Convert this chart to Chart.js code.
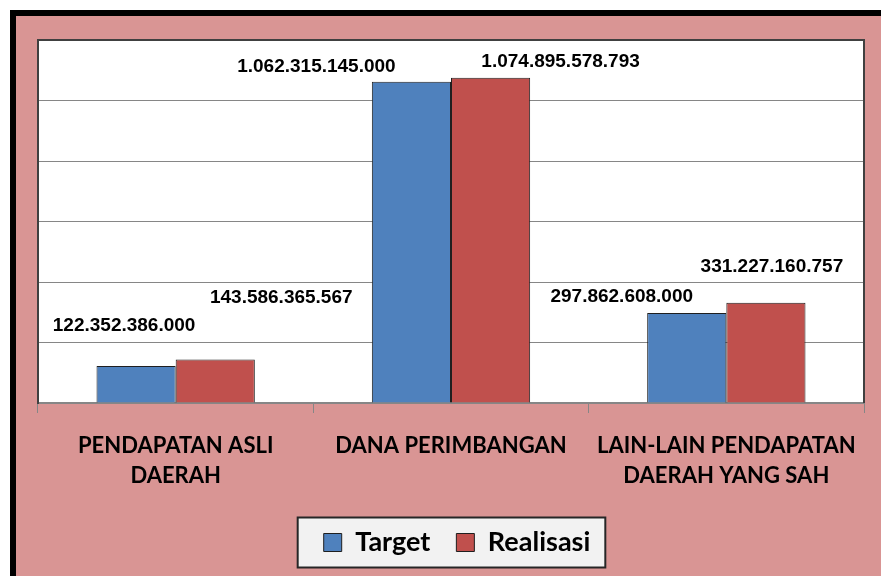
<!DOCTYPE html>
<html>
<head>
    <title>Target dan Realisasi Pendapatan</title>
    <script src="https://cdn.jsdelivr.net/npm/chart.js"></script>
    <style>
        body {
            margin: 0;
            padding: 0;
            overflow: hidden;
            background-color: #ffffff;
        }
        #frame {
            position: absolute;
            left: 10px;
            top: 10px;
            width: 865px;
            height: 560px;
            border-top: 6px solid #000;
            border-left: 6px solid #000;
            background-color: #D99594;
        }
        #frame canvas {
            display: block;
        }
    </style>
</head>
<body>
    <div id="frame">
        <canvas id="myChart" width="865" height="560"></canvas>
    </div>

    <script>
        // data
        const categories = [
            ['PENDAPATAN ASLI', 'DAERAH'],
            ['DANA PERIMBANGAN'],
            ['LAIN-LAIN PENDAPATAN', 'DAERAH YANG SAH']
        ];
        const targetValues = [122352386000, 1062315145000, 297862608000];
        const realisasiValues = [143586365567, 1074895578793, 331227160757];
        const seriesNames = ['Target', 'Realisasi'];

        // where each value label sits relative to the top of its bar (like the dragged labels in Excel)
        const labelOffsets = [
            [[-12, -40], [-95, -15], [-65, -16]],
            [[66, -62], [70, -16], [6, -36]]
        ];

        function formatRupiah(v) {
            return String(Math.round(v)).replace(/\B(?=(\d{3})+(?!\d))/g, '.');
        }

        const valueLabels = {
            id: 'valueLabels',
            afterDatasetsDraw(chart) {
                const c = chart.ctx;
                c.save();
                c.font = "bold 19px 'Liberation Sans', Arial, sans-serif";
                c.fillStyle = '#000';
                c.textAlign = 'center';
                c.textBaseline = 'middle';
                chart.data.datasets.forEach((ds, i) => {
                    chart.getDatasetMeta(i).data.forEach((bar, j) => {
                        const off = labelOffsets[i][j];
                        c.fillText(formatRupiah(ds.data[j]), bar.x + off[0], bar.y + off[1]);
                    });
                });
                c.restore();
            }
        };

        // white plot area and dark frame round it (bottom edge is the grey axis line)
        const plotFrame = {
            id: 'plotFrame',
            beforeDraw(chart) {
                const a = chart.chartArea;
                chart.ctx.save();
                chart.ctx.fillStyle = '#ffffff';
                chart.ctx.fillRect(a.left, a.top, a.right - a.left, a.bottom - a.top);
                chart.ctx.restore();
            },
            afterDraw(chart) {
                const a = chart.chartArea;
                const c = chart.ctx;
                c.save();
                c.strokeStyle = '#404040';
                c.lineWidth = 2;
                c.beginPath();
                c.moveTo(a.left, a.bottom);
                c.lineTo(a.left, a.top);
                c.lineTo(a.right, a.top);
                c.lineTo(a.right, a.bottom);
                c.stroke();
                c.restore();
            }
        };

        // grey box behind the legend, legend nudged a little right like the original
        const legendBox = {
            id: 'legendBox',
            afterLayout(chart) {
                if (!chart.legend) return;
                chart.legend.left += 6;
                chart.legend.right += 6;
            },
            beforeDraw(chart) {
                const hb = chart.legend && chart.legend.legendHitBoxes;
                if (!hb || !hb.length) return;
                const left = hb[0].left - 26;
                const last = hb[hb.length - 1];
                const right = last.left + last.width + 15;
                const mid = hb[0].top + hb[0].height / 2;
                const top = mid - 25;
                const bottom = mid + 25;
                const c = chart.ctx;
                c.save();
                c.fillStyle = '#F2F2F2';
                c.fillRect(left, top, right - left, bottom - top);
                c.strokeStyle = '#262626';
                c.lineWidth = 2;
                c.strokeRect(left, top, right - left, bottom - top);
                c.restore();
            }
        };

        const ctx = document.getElementById('myChart');

        new Chart(ctx, {
            type: 'bar',
            data: {
                labels: categories,
                datasets: [{
                    label: seriesNames[0],
                    data: targetValues,
                    backgroundColor: '#4F81BD',
                    borderColor: '#1f1f1f',
                    borderWidth: 1
                }, {
                    label: seriesNames[1],
                    data: realisasiValues,
                    backgroundColor: '#C0504D',
                    borderColor: '#1f1f1f',
                    borderWidth: 1
                }]
            },
            options: {
                responsive: false,
                animation: false,
                layout: {
                    padding: { left: 22, right: 17, top: 24, bottom: 10 }
                },
                datasets: {
                    bar: {
                        categoryPercentage: 0.575,
                        barPercentage: 1.0
                    }
                },
                plugins: {
                    legend: {
                        position: 'bottom',
                        labels: {
                            color: '#000',
                            boxWidth: 18,
                            boxHeight: 18,
                            padding: 26,
                            font: { family: 'Lato', size: 27, weight: 'bold' }
                        }
                    },
                    tooltip: { enabled: false }
                },
                scales: {
                    x: {
                        grid: {
                            offset: true,
                            drawOnChartArea: false,
                            drawTicks: true,
                            tickLength: 10,
                            color: '#868686'
                        },
                        border: { display: true, color: '#868686', width: 2 },
                        ticks: {
                            color: '#000',
                            padding: 18,
                            maxRotation: 0,
                            autoSkip: false,
                            font: { family: 'Lato', size: 22, weight: 'bold', lineHeight: 1.36 }
                        },
                        afterFit(scale) {
                            scale.height = 100;
                        }
                    },
                    y: {
                        min: 0,
                        max: 1200000000000,
                        grid: {
                            color: '#868686',
                            drawTicks: false
                        },
                        border: { display: true, color: '#404040', width: 2 },
                        ticks: {
                            display: false,
                            stepSize: 200000000000
                        }
                    }
                }
            },
            plugins: [legendBox, plotFrame, valueLabels]
        });
    </script>
</body>
</html>
